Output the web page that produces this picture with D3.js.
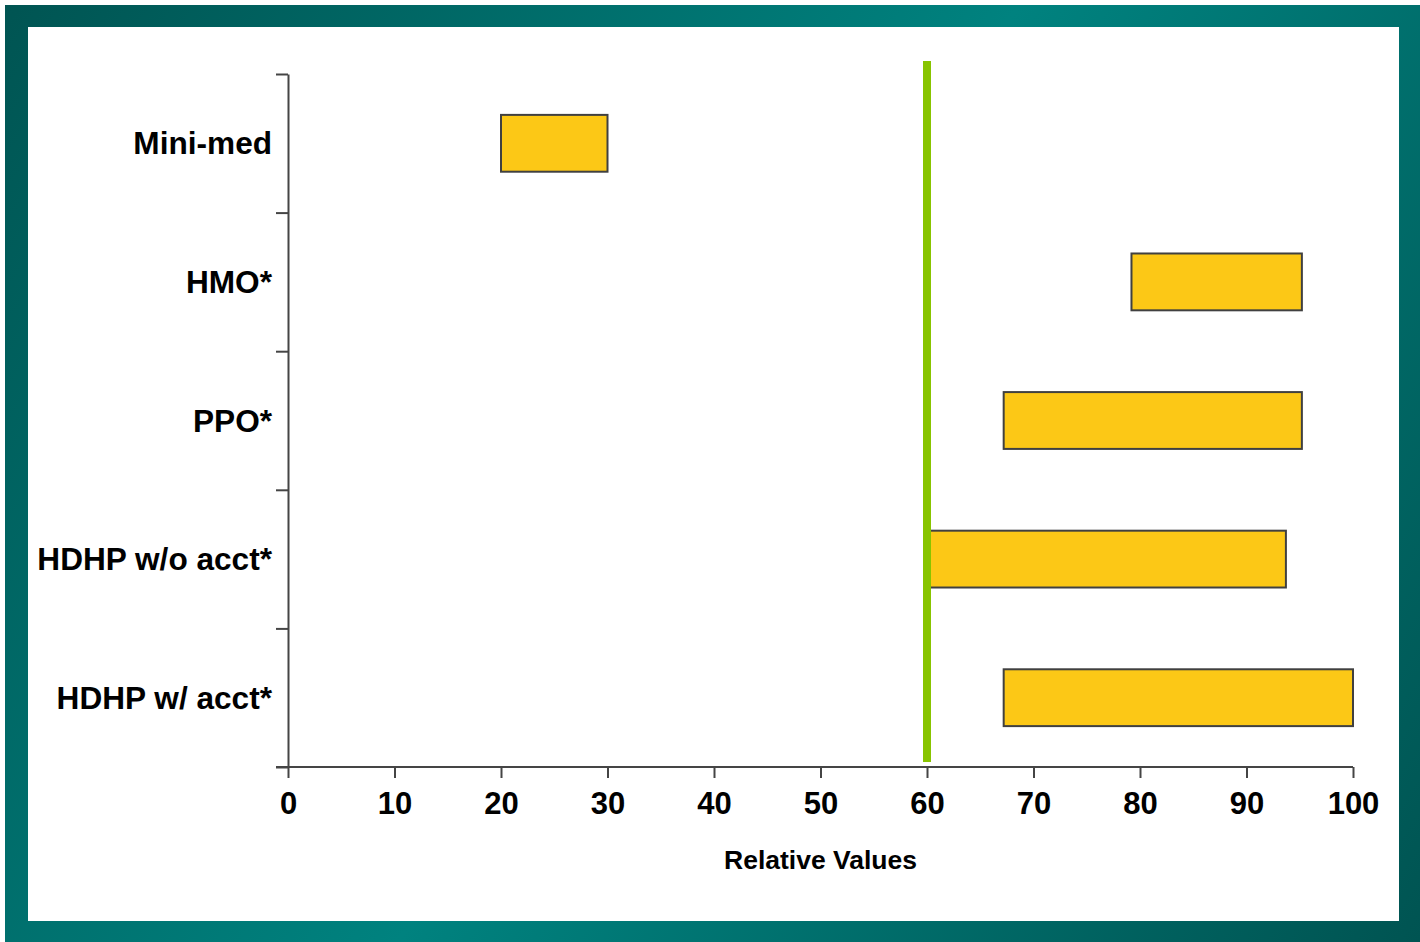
<!DOCTYPE html>
<html>
<head>
<meta charset="utf-8">
<script src="https://cdn.jsdelivr.net/npm/d3@7"></script>
<style>
  html, body { margin: 0; padding: 0; background: #ffffff; }
  svg { display: block; }
  text { font-family: "Liberation Sans", Arial, sans-serif; font-weight: bold; fill: #000; }
</style>
</head>
<body>
<svg id="chart" width="1420" height="942"></svg>
<script>
// ---- data ----
const categories = ["Mini-med", "HMO*", "PPO*", "HDHP w/o acct*", "HDHP w/ acct*"];
const rangeStart = [20, 79.2, 67.2, 60, 67.2];
const rangeEnd   = [30, 95.2, 95.2, 93.7, 100];
const referenceValue = 60;
const xTicks = [0, 10, 20, 30, 40, 50, 60, 70, 80, 90, 100];
const xAxisTitle = "Relative Values";

// ---- layout ----
const W = 1420, H = 942;
const plot = { left: 288, right: 1353, top: 74, bottom: 767 };

const svg = d3.select("#chart");

// frame gradient
const defs = svg.append("defs");
const grad = defs.append("linearGradient")
  .attr("id", "frameGrad")
  .attr("gradientUnits", "userSpaceOnUse")
  .attr("x1", 0).attr("y1", 0).attr("x2", W).attr("y2", H);
grad.append("stop").attr("offset", "0%").attr("stop-color", "#005452");
grad.append("stop").attr("offset", "50%").attr("stop-color", "#00827f");
grad.append("stop").attr("offset", "100%").attr("stop-color", "#005452");

svg.append("rect").attr("x", 0).attr("y", 0).attr("width", W).attr("height", H).attr("fill", "#ffffff");
svg.append("rect").attr("x", 5).attr("y", 5).attr("width", W - 5).attr("height", H - 5).attr("fill", "url(#frameGrad)");
svg.append("rect").attr("x", 28).attr("y", 27).attr("width", 1371).attr("height", 894).attr("fill", "#ffffff");

// scales
const x = d3.scaleLinear().domain([0, 100]).range([plot.left, plot.right]);
const y = d3.scaleBand().domain(categories)
  .range([plot.top, plot.bottom])
  .paddingInner(0.59).paddingOuter(0.295);
const yEdge = d3.scaleLinear().domain([0, categories.length]).range([plot.top, plot.bottom]);

const axisColor = "#454545";

// bars
const rows = categories.map((c, i) => ({ c, s: rangeStart[i], e: rangeEnd[i] }));
svg.append("g").selectAll("rect").data(rows).join("rect")
  .attr("x", d => x(d.s))
  .attr("y", d => y(d.c))
  .attr("width", d => x(d.e) - x(d.s))
  .attr("height", y.bandwidth())
  .attr("fill", "#fcc816")
  .attr("stroke", "#404040")
  .attr("stroke-width", 2);

// reference line
svg.append("line")
  .attr("x1", x(referenceValue)).attr("x2", x(referenceValue))
  .attr("y1", 61).attr("y2", 762)
  .attr("stroke", "#88c400").attr("stroke-width", 8);

// x axis
const xAxis = d3.axisBottom(x).tickValues(xTicks).tickSize(11).tickPadding(14).tickSizeOuter(0);
const gx = svg.append("g").attr("transform", `translate(0,${plot.bottom})`).call(xAxis);
gx.select(".domain").remove();
gx.append("line").attr("x1", plot.left - 12).attr("x2", plot.right)
  .attr("y1", 0).attr("y2", 0).attr("stroke", axisColor).attr("stroke-width", 2);
gx.selectAll(".tick line").attr("stroke", axisColor).attr("stroke-width", 2);
gx.selectAll(".tick text")
  .style("font-family", '"Liberation Sans", Arial, sans-serif')
  .style("font-weight", "bold")
  .attr("font-size", 31).attr("fill", "#000");

// y axis (edge ticks, no labels)
const yAxis = d3.axisLeft(yEdge).tickValues(d3.range(categories.length + 1)).tickSize(12).tickFormat("").tickSizeOuter(0);
const gy = svg.append("g").attr("transform", `translate(${plot.left},0)`).call(yAxis);
gy.select(".domain").attr("stroke", axisColor).attr("stroke-width", 2);
gy.selectAll(".tick line").attr("stroke", axisColor).attr("stroke-width", 2);

// category labels
svg.append("g").selectAll("text").data(categories).join("text")
  .attr("x", 272)
  .attr("y", d => y(d) + y.bandwidth() / 2 + 11)
  .attr("text-anchor", "end")
  .attr("font-size", 31.6)
  .text(d => d);

// axis title
svg.append("text")
  .attr("x", (plot.left + plot.right) / 2)
  .attr("y", 869)
  .attr("text-anchor", "middle")
  .attr("font-size", 26.5)
  .text(xAxisTitle);
</script>
</body>
</html>
